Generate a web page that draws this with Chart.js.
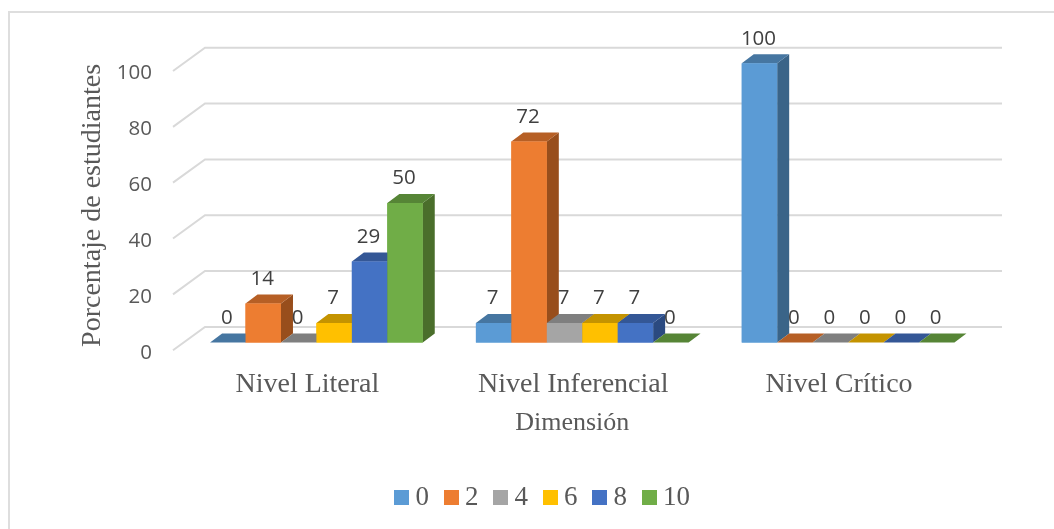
<!DOCTYPE html>
<html><head><meta charset="utf-8">
<style>html,body{margin:0;padding:0;background:#fff}#w{position:relative;width:1054px;height:529px}</style>
<script src="https://cdn.jsdelivr.net/npm/chart.js@4"></script>
</head><body><div id="w"><canvas id="c" width="1054" height="529"></canvas></div>
<script>
const categories = ["Nivel Literal", "Nivel Inferencial", "Nivel Crítico"];
const seriesNames = ["0", "2", "4", "6", "8", "10"];
const s0 = [0, 7, 100];
const s2 = [14, 72, 0];
const s4 = [0, 7, 0];
const s6 = [7, 7, 0];
const s8 = [29, 7, 0];
const s10 = [50, 0, 0];
const seriesValues = [s0, s2, s4, s6, s8, s10];
const frontColors = ["#5B9BD5", "#ED7D31", "#A5A5A5", "#FFC000", "#4472C4", "#70AD47"];
const topColors = ["#4676A1", "#B65F25", "#7F7F7F", "#C49300", "#345796", "#568536"];
const sideColors = ["#3A6488", "#984E1C", "#6A6A6A", "#A37B00", "#2B4A80", "#4A6E2B"];
const yTicks = [0, 20, 40, 60, 80, 100];
const DX = 12, DY = -9;
const swatch = c => { const k = document.createElement('canvas'); k.width = 15; k.height = 15;
  const g = k.getContext('2d'); g.fillStyle = c; g.fillRect(0, 0, 15, 15); return k; };
const swatches = frontColors.map(swatch);

const frame3d = {
  id: 'frame3d',
  afterLayout(ch) { ch.scales.x.right -= 20; ch.scales.y.bottom += 5; ch.legend.right += 80; },
  beforeDraw(ch) {
    const c = ch.ctx; c.save(); c.strokeStyle = '#DEDEDE'; c.lineWidth = 2;
    c.beginPath(); c.moveTo(9, 529); c.lineTo(9, 12); c.lineTo(1054, 12); c.stroke(); c.restore();
  },
  beforeDatasetsDraw(ch) {
    const c = ch.ctx, y = ch.scales.y; c.save(); c.strokeStyle = '#D9D9D9'; c.lineWidth = 2;
    yTicks.forEach(v => { const p = y.getPixelForValue(v);
      c.beginPath(); c.moveTo(173, p + 7.7); c.lineTo(205, p - 15.6); c.lineTo(1002, p - 15.6); c.stroke(); });
    c.restore();
  },
  afterDatasetsDraw(ch) {
    const c = ch.ctx; c.save();
    ch.data.datasets.forEach((d, i) => ch.getDatasetMeta(i).data.forEach(b => {
      const l = b.x - b.width / 2, r = b.x + b.width / 2, t = b.y, base = b.base;
      c.fillStyle = sideColors[i];
      c.beginPath(); c.moveTo(r, t); c.lineTo(r + DX, t + DY); c.lineTo(r + DX, base + DY); c.lineTo(r, base); c.closePath(); c.fill();
      c.fillStyle = topColors[i];
      c.beginPath(); c.moveTo(l, t); c.lineTo(l + DX, t + DY); c.lineTo(r + DX, t + DY); c.lineTo(r, t); c.closePath(); c.fill();
      b.draw(c);
    }));
    c.fillStyle = '#404040'; c.font = '20.5px "Open Sans"';
    c.textAlign = 'center'; c.textBaseline = 'middle';
    ch.data.datasets.forEach((d, i) => ch.getDatasetMeta(i).data.forEach((b, j) => {
      c.fillText(String(d.data[j]), b.x - 1, b.y - 24.5);
    }));
    c.restore();
  }
};

new Chart(document.getElementById('c'), {
  type: 'bar',
  data: { labels: categories, datasets: seriesNames.map((n, i) => ({
    label: n, data: seriesValues[i], backgroundColor: frontColors[i],
    barPercentage: 1, categoryPercentage: 0.8 })) },
  plugins: [frame3d],
  options: {
    responsive: false, animation: false, devicePixelRatio: 1,
    layout: { padding: { left: 30, right: 73, top: 63.3, bottom: 8 } },
    plugins: {
      tooltip: { enabled: false },
      legend: { position: 'bottom',
        labels: { usePointStyle: true, boxWidth: 1, padding: 21.5, color: '#595959',
          font: { family: '"Liberation Serif"', size: 27 },
          generateLabels(ch) {
            return Chart.defaults.plugins.legend.labels.generateLabels(ch)
              .map(it => ({ ...it, pointStyle: swatches[it.datasetIndex] }));
          } } }
    },
    scales: {
      x: { grid: { display: false, drawTicks: false }, border: { display: false },
        afterFit(s) { s.height = 120; },
        ticks: { color: '#595959', font: { family: '"Liberation Serif"', size: 28 }, labelOffset: -9, padding: 25, maxRotation: 0 },
        title: { display: true, text: 'Dimensión', color: '#595959', font: { family: '"Liberation Serif"', size: 26 }, padding: { top: 6, bottom: 24 } } },
      y: { min: 0, max: 100, grid: { display: false, drawTicks: false }, border: { display: false },
        afterFit(s) { s.width = 153.5; },
        ticks: { stepSize: 20, color: '#595959', font: { family: '"Open Sans"', size: 20.5 }, labelOffset: 10.2, padding: 31.5 },
        title: { display: true, text: 'Porcentaje de estudiantes', color: '#595959', font: { family: '"Liberation Serif"', size: 28 }, padding: { top: 46 } } }
    }
  }
});
</script></body></html>
